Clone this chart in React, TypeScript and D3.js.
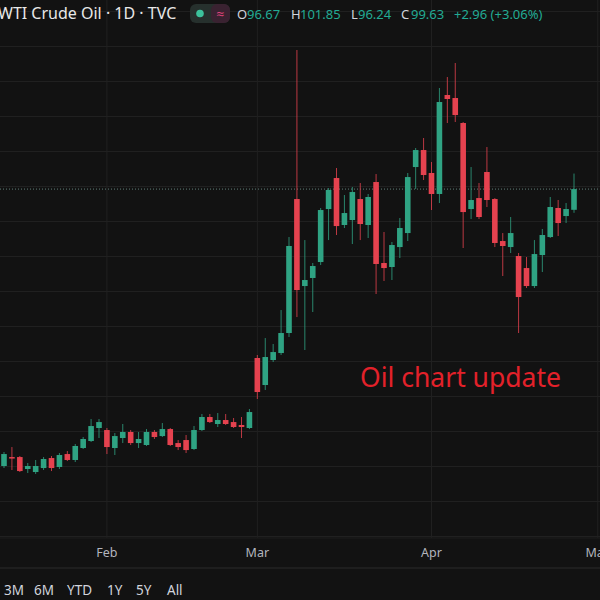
import React from "react";
import * as d3 from "d3";

const opens = [60.07, 61.35, 61.35, 59.64, 59.21, 59.78, 61.21, 59.93, 61.78, 60.93, 62.64, 63.64, 65.5, 65.21, 62.64, 64.07, 64.93, 63.35, 63.07, 64.93, 64.35, 65.35, 63.35, 63.78, 62.5, 65.21, 67.07, 66.07, 66.64, 66.35, 65.93, 65.5, 75.5, 71.64, 75.21, 76.21, 79.07, 98.21, 85.78, 86.93, 89.21, 96.78, 101.21, 94.5, 95.21, 98.21, 94.5, 100.64, 89.07, 88.5, 91.35, 93.35, 102.78, 105.21, 101.93, 98.93, 113.07, 112.64, 109.07, 96.78, 98.35, 102.07, 98.21, 92.21, 91.35, 90.07, 88.35, 85.78, 90.21, 92.78, 96.93, 95.78, 96.67];
const highs = [62.07, 62.78, 61.5, 60.5, 60.93, 61.35, 61.5, 61.93, 62.21, 63.21, 64.21, 66.78, 66.78, 65.5, 64.78, 66.07, 65.21, 64.93, 65.35, 65.21, 66.21, 65.5, 63.78, 64.5, 65.78, 67.5, 67.5, 67.64, 67.5, 66.93, 67.07, 68.21, 75.93, 78.35, 77.5, 82.35, 92.78, 119.5, 92.35, 89.07, 96.93, 99.78, 102.64, 98.78, 99.93, 100.5, 98.93, 101.78, 93.5, 92.07, 95.5, 101.93, 105.5, 106.93, 103.5, 114.07, 115.64, 117.64, 109.21, 102.78, 100.5, 105.64, 98.35, 93.35, 95.64, 90.5, 89.93, 92.35, 93.93, 98.5, 98.07, 97.64, 101.85];
const lows = [59.78, 59.5, 59.21, 59.07, 58.93, 59.5, 59.35, 59.64, 60.78, 60.64, 62.5, 63.5, 64.07, 61.78, 61.64, 63.35, 63.07, 62.64, 62.93, 63.93, 64.21, 62.93, 62.35, 61.93, 62.35, 65.07, 66.21, 65.64, 65.93, 65.5, 64.07, 65.35, 69.64, 70.93, 74.93, 75.93, 78.5, 81.35, 76.64, 82.07, 88.78, 92.35, 93.07, 94.07, 91.78, 92.35, 92.64, 84.64, 86.5, 86.64, 89.78, 92.21, 99.64, 100.93, 96.64, 97.64, 109.07, 109.21, 91.21, 95.35, 95.35, 97.07, 91.35, 87.21, 90.5, 79.07, 85.5, 85.5, 87.78, 92.64, 92.93, 94.78, 96.24];
const closes = [61.78, 61.14, 59.35, 60.07, 60.07, 61.07, 59.78, 61.64, 60.93, 62.93, 63.93, 65.78, 66.35, 62.78, 64.35, 64.93, 63.35, 63.93, 64.93, 64.21, 65.35, 63.07, 62.78, 62.35, 65.21, 67.07, 66.35, 66.64, 66.07, 65.64, 65.64, 67.78, 70.64, 75.64, 76.35, 79.07, 91.5, 85.21, 86.64, 88.64, 96.64, 99.5, 94.35, 96.21, 99.21, 94.64, 98.5, 88.93, 88.35, 91.64, 94.07, 101.35, 105.21, 101.64, 98.93, 112.07, 112.5, 110.21, 96.35, 98.07, 95.64, 98.07, 91.93, 91.5, 93.35, 84.21, 85.78, 90.35, 93.07, 97.07, 94.78, 96.78, 99.63];

const monthLabels = ["Feb", "Mar", "Apr", "May"];
const monthIndex = [13, 32, 54, 75];
const gridPrices = [50, 55, 60, 65, 70, 75, 80, 85, 90, 95, 100, 105, 110, 115, 120, 125];
const rangeButtons = ["3M", "6M", "YTD", "1Y", "5Y", "All"];
const rangeX = [4, 34, 67, 107, 136, 167];
const title = "WTI Crude Oil · 1D · TVC";
const ohlcLabels = ["O", "H", "L", "C"];
const ohlcValues = ["96.67", "101.85", "96.24", "99.63"];
const changeText = "+2.96 (+3.06%)";

const BG = "#121212";
const GREEN = "#2fa383";
const RED = "#e5424f";
const GRID = "#202020";
const FONT = "'Noto Sans', 'Open Sans', sans-serif";

export default function App() {
  const W = 600;
  const H = 600;
  const plotBottom = 538;
  const x = d3.scaleLinear().domain([0, 72]).range([4, 574]);
  const y = d3.scaleLinear().domain([60, 120]).range([466.5, 46.5]);
  const bodyW = 5.6;
  const lastClose = closes[closes.length - 1];

  const headerX = [237, 291, 351, 401];
  const headerValX = [247, 300, 358, 411];

  return (
    <div style={{ position: "fixed", left: 0, top: 0, width: W, height: H, background: BG }}>
      <svg width={W} height={H} style={{ display: "block" }}>
        <rect x={0} y={0} width={W} height={H} fill={BG} />
        <g>
          {gridPrices.map((p) => (
            <line key={p} x1={0} x2={W} y1={y(p)} y2={y(p)} stroke={GRID} strokeWidth={1} />
          ))}
          {monthIndex.map((i) => (
            <line key={i} x1={x(i)} x2={x(i)} y1={0} y2={plotBottom} stroke={GRID} strokeWidth={1} />
          ))}
        </g>
        <line x1={0} x2={W} y1={y(lastClose)} y2={y(lastClose)} stroke="#5f7f78" strokeWidth={1} strokeDasharray="1,2" />
        <g>
          {opens.map((o, i) => {
            const c = closes[i];
            const up = c >= o;
            const col = up ? GREEN : RED;
            const top = y(Math.max(o, c));
            const bot = y(Math.min(o, c));
            const cx = x(i);
            return (
              <g key={i}>
                <line x1={cx} x2={cx} y1={y(highs[i])} y2={y(lows[i])} stroke={col} strokeOpacity={0.8} strokeWidth={1} />
                <rect x={cx - bodyW / 2} y={top} width={bodyW} height={Math.max(1.5, bot - top)} fill={col} />
              </g>
            );
          })}
        </g>
        <text x={360} y={387} fill="#e3212a" fontSize={26.5} fontFamily={FONT}>Oil chart update</text>

        <line x1={0} x2={W} y1={plotBottom} y2={plotBottom} stroke="#1c1c1c" />
        {monthLabels.map((m, k) => (
          <text key={m} x={x(monthIndex[k])} y={557} fill="#b2b5be" fontSize={12.5} fontFamily={FONT} textAnchor="middle">{m}</text>
        ))}
        <line x1={0} x2={W} y1={568} y2={568} stroke="#2a2a2a" />
        {rangeButtons.map((b, k) => (
          <text key={b} x={rangeX[k]} y={595} fill="#d1d4dc" fontSize={13.5} fontFamily={FONT}>{b}</text>
        ))}

        <text x={-2} y={19} fill="#e8e8e8" fontSize={16} fontFamily={FONT}>{title}</text>
        <rect x={190} y={4} width={40} height={19} rx={6} fill="#26302d" />
        <rect x={211} y={4} width={19} height={19} rx={6} fill="#3a2231" />
        <circle cx={200} cy={13.5} r={3.8} fill="#3cc29c" />
        <text x={220.5} y={18.5} fill="#e0457e" fontSize={14} fontFamily={FONT} textAnchor="middle">≈</text>
        {ohlcLabels.map((l, k) => (
          <g key={l}>
            <text x={headerX[k]} y={18.5} fill="#d1d4dc" fontSize={13} fontFamily={FONT}>{l}</text>
            <text x={headerValX[k]} y={18.5} fill="#22ab94" fontSize={13} fontFamily={FONT}>{ohlcValues[k]}</text>
          </g>
        ))}
        <text x={454} y={18.5} fill="#22ab94" fontSize={13} fontFamily={FONT}>{changeText}</text>
      </svg>
    </div>
  );
}
